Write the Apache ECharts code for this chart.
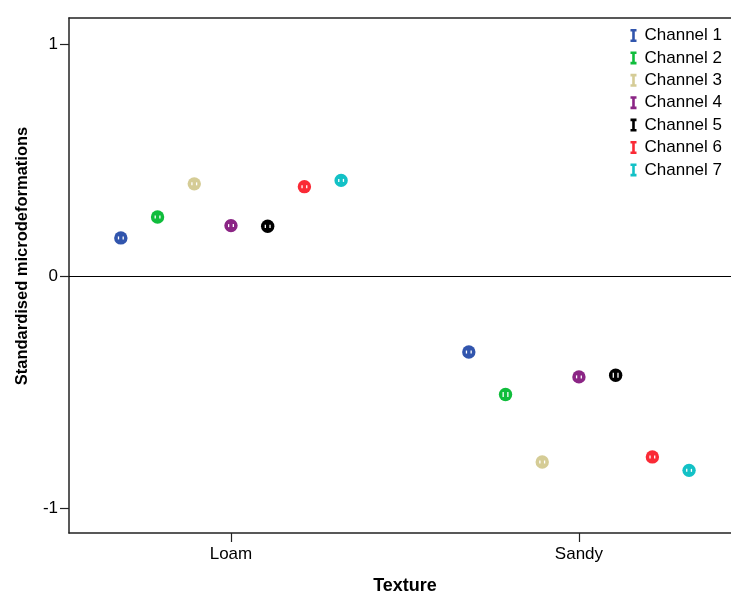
<!DOCTYPE html>
<html>
<head>
<meta charset="utf-8">
<script src="https://cdn.jsdelivr.net/npm/echarts@6/dist/echarts.min.js"></script>
<style>
  html, body { margin: 0; padding: 0; background: #fff; }
  #chart { width: 731px; height: 595px; }
</style>
</head>
<body>
<div id="chart"></div>
<script>
// data
var textures = ['Loam', 'Sandy']
var channels = ['Channel 1', 'Channel 2', 'Channel 3', 'Channel 4', 'Channel 5', 'Channel 6', 'Channel 7']
var loamMeans = [0.164, 0.254, 0.397, 0.217, 0.214, 0.385, 0.412]
var sandyMeans = [-0.328, -0.511, -0.802, -0.435, -0.428, -0.780, -0.838]
// half width of the (tiny) error bars
var loamErr = [0.006, 0.006, 0.006, 0.006, 0.007, 0.006, 0.006]
var sandyErr = [0.006, 0.011, 0.005, 0.006, 0.011, 0.006, 0.006]
var yTicks = [-1, 0, 1]
var colors = ['#3155ad', '#10bd3c', '#d5cc96', '#8b2585', '#000000', '#fa2a36', '#13c1c6']

var chart = echarts.init(document.getElementById('chart'))

// dodge channels around each texture
var dodge = 0.1055
var series = channels.map(function(name, i) {
  var off = (i - 3) * dodge
  var s = {
    name: name,
    type: 'custom',
    itemStyle: { color: colors[i] },
    data: [
      [1 + off, loamMeans[i], loamErr[i]],
      [2 + off, sandyMeans[i], sandyErr[i]]
    ],
    renderItem: function(params, api) {
      var p = api.coord([api.value(0), api.value(1)])
      var h = Math.max(api.size([0, api.value(2)])[1], 1.5)
      var c = api.visual('color')
      return {
        type: 'group',
        children: [
          { type: 'circle', shape: { cx: p[0], cy: p[1], r: 6.7 }, style: { fill: c } },
          { type: 'rect', shape: { x: p[0] - 3, y: p[1] - h, width: 1.3, height: h * 2 }, style: { fill: '#fff' } },
          { type: 'rect', shape: { x: p[0] + 1.7, y: p[1] - h, width: 1.3, height: h * 2 }, style: { fill: '#fff' } }
        ]
      }
    }
  }
  if (i === 0) {
    s.markLine = {
      silent: true,
      symbol: 'none',
      label: { show: false },
      lineStyle: { color: '#000', width: 1.2, type: 'solid' },
      data: [{ yAxis: 0 }]
    }
  }
  return s
})

chart.setOption({
  backgroundColor: '#ffffff',
  animation: false,
  textStyle: { fontFamily: 'Liberation Sans, Arial, sans-serif' },
  grid: { left: 69, top: 18, right: 0, bottom: 62 },
  legend: {
    orient: 'vertical',
    right: 4,
    top: 22,
    itemWidth: 6,
    itemHeight: 13,
    itemGap: 5.4,
    icon: 'path://M0,0H6V2.6H4.3V10.4H6V13H0V10.4H1.7V2.6H0Z',
    textStyle: { fontSize: 17, color: '#000', padding: [0, 0, 0, 3] },
    data: channels
  },
  xAxis: [{
    type: 'value',
    min: 0.5345,
    max: 2.437,
    axisLine: { show: true, onZero: false, lineStyle: { color: '#222', width: 1.5 } },
    axisTick: { show: true, length: 9, customValues: [1, 2], lineStyle: { color: '#222', width: 1.2 } },
    axisLabel: {
      customValues: [1, 2],
      fontSize: 17,
      color: '#000',
      margin: 13,
      formatter: function(v) { return textures[Math.round(v) - 1] }
    },
    splitLine: { show: false }
  }, {
    type: 'value',
    position: 'top',
    min: 0.5345,
    max: 2.437,
    axisLine: { show: true, onZero: false, lineStyle: { color: '#222', width: 1.5 } },
    axisTick: { show: false },
    axisLabel: { show: false },
    splitLine: { show: false }
  }],
  yAxis: {
    type: 'value',
    min: -1.108,
    max: 1.112,
    axisLine: { show: true, onZero: false, lineStyle: { color: '#222', width: 1.5 } },
    axisTick: { show: true, length: 9, customValues: yTicks, lineStyle: { color: '#222', width: 1.2 } },
    axisLabel: { customValues: yTicks, fontSize: 17, color: '#000', margin: 11 },
    splitLine: { show: false }
  },
  graphic: [
    {
      type: 'text',
      x: 22,
      y: 256,
      rotation: Math.PI / 2,
      style: {
        text: 'Standardised microdeformations',
        font: 'bold 16.5px Liberation Sans, Arial, sans-serif',
        fill: '#000',
        align: 'center',
        verticalAlign: 'middle'
      }
    },
    {
      type: 'text',
      x: 405,
      y: 586,
      style: {
        text: 'Texture',
        font: 'bold 18px Liberation Sans, Arial, sans-serif',
        fill: '#000',
        align: 'center',
        verticalAlign: 'middle'
      }
    }
  ],
  series: series
})
</script>
</body>
</html>
